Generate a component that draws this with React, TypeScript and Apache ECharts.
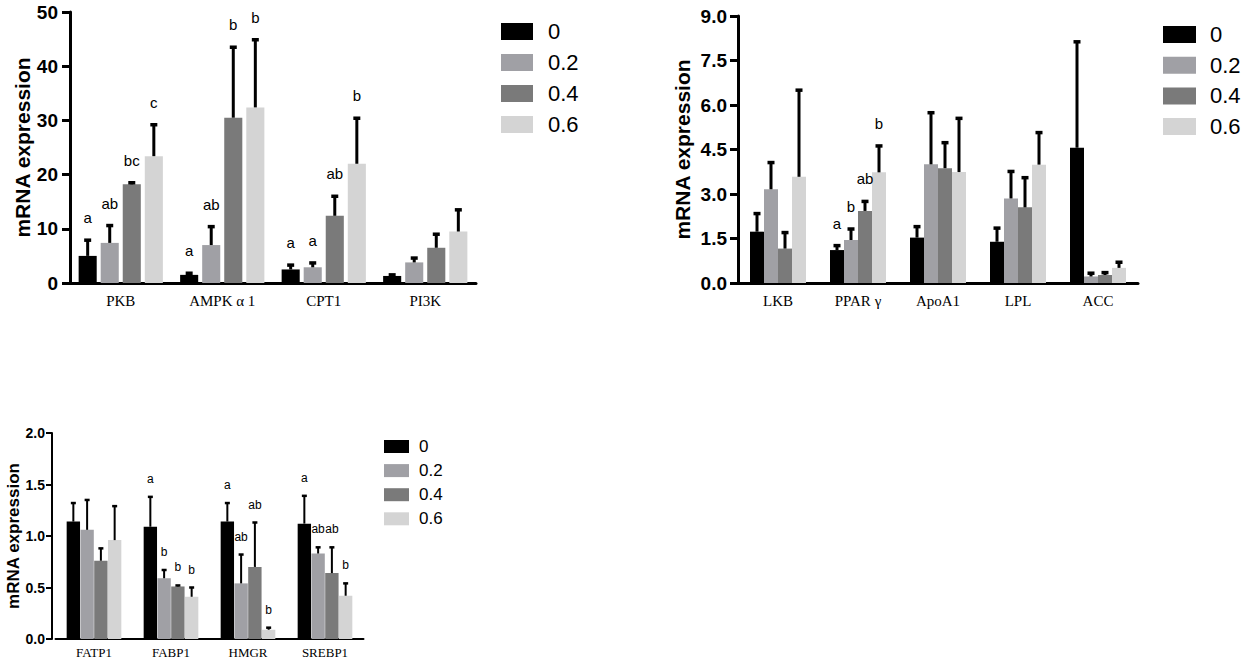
import React, { useEffect, useRef } from "react";
import * as echarts from "echarts";

// ---------- data ----------
const doses = ["0", "0.2", "0.4", "0.6"];
const doseColors = ["#000000", "#a0a0a5", "#7a7a7a", "#d4d4d4"];

// Chart A (top-left)
const genesA = ["PKB", "AMPK α 1", "CPT1", "PI3K"];
const meansA = [
  [5.0, 1.5, 2.5, 1.3],
  [7.4, 7.0, 2.9, 3.8],
  [18.2, 30.5, 12.4, 6.5],
  [23.4, 32.4, 22.0, 9.5],
];
const errA = [
  [2.9, 0.3, 0.8, 0.2],
  [3.2, 3.4, 0.8, 0.8],
  [0.3, 13.0, 3.6, 2.5],
  [5.8, 12.5, 8.4, 4.0],
];
const lettersA = [
  ["a", "a", "a", ""],
  ["ab", "ab", "a", ""],
  ["bc", "b", "ab", ""],
  ["c", "b", "b", ""],
];
const ticksA = { max: 50, interval: 10, decimals: 0 };

// Chart B (top-right)
const genesB = ["LKB", "PPAR γ", "ApoA1", "LPL", "ACC"];
const meansB = [
  [1.73, 1.11, 1.53, 1.39, 4.56],
  [3.16, 1.45, 4.0, 2.85, 0.22],
  [1.16, 2.43, 3.87, 2.55, 0.27],
  [3.58, 3.73, 3.74, 3.99, 0.51],
];
const errB = [
  [0.61, 0.15, 0.37, 0.46, 3.57],
  [0.9, 0.37, 1.74, 0.91, 0.11],
  [0.54, 0.32, 0.86, 1.0, 0.08],
  [2.92, 0.89, 1.81, 1.08, 0.19],
];
const lettersB = [
  ["", "a", "", "", ""],
  ["", "b", "", "", ""],
  ["", "ab", "", "", ""],
  ["", "b", "", "", ""],
];
const ticksB = { max: 9, interval: 1.5, decimals: 1 };

// Chart C (bottom-left)
const genesC = ["FATP1", "FABP1", "HMGR", "SREBP1"];
const meansC = [
  [1.14, 1.09, 1.14, 1.12],
  [1.06, 0.59, 0.54, 0.83],
  [0.76, 0.51, 0.7, 0.64],
  [0.96, 0.41, 0.09, 0.42],
];
const errC = [
  [0.18, 0.29, 0.18, 0.27],
  [0.29, 0.08, 0.28, 0.06],
  [0.12, 0.01, 0.43, 0.25],
  [0.33, 0.09, 0.02, 0.12],
];
const lettersC = [
  ["", "a", "a", "a"],
  ["", "b", "ab", "ab"],
  ["", "b", "ab", "ab"],
  ["", "b", "b", "b"],
];
const ticksC = { max: 2, interval: 0.5, decimals: 1 };

const yTitle = "mRNA expression";

// ---------- styles ----------
const SANS = "'Liberation Sans', Arial, sans-serif";
const SERIF = "'Liberation Serif', 'Times New Roman', serif";

type Style = {
  grid: { left: number; top: number; width: number; height: number };
  yOffset: number;
  catGap: number;
  barGap: number;
  axisW: number;
  yLabelSize: number;
  yLabelMargin: number;
  nameSize: number;
  nameGap: number;
  xLabelSize: number;
  xLabelMargin: number;
  tickLen: number;
  letterSize: number;
  letterDist: number;
  errW: number;
  capW: number;
  capH: number;
  legend: { left: number; top: number; iw: number; ih: number; gap: number; font: number; pad: number };
};

const styleA: Style = {
  grid: { left: 70, top: 12, width: 406, height: 271 },
  yOffset: 0,
  catGap: 0.17,
  barGap: 0.22,
  axisW: 3,
  yLabelSize: 19,
  yLabelMargin: 12,
  nameSize: 21,
  nameGap: 36,
  xLabelSize: 15,
  xLabelMargin: 10,
  tickLen: 8,
  letterSize: 15,
  letterDist: 15,
  errW: 3,
  capW: 7,
  capH: 3.5,
  legend: { left: 501, top: 20.5, iw: 32, ih: 17, gap: 9, font: 22, pad: 10 },
};

const styleB: Style = {
  grid: { left: 738, top: 16, width: 400, height: 267 },
  yOffset: 0,
  catGap: 0.3,
  barGap: 0,
  axisW: 3,
  yLabelSize: 19,
  yLabelMargin: 11,
  nameSize: 21,
  nameGap: 45,
  xLabelSize: 15,
  xLabelMargin: 10,
  tickLen: 8,
  letterSize: 15,
  letterDist: 15,
  errW: 3,
  capW: 7,
  capH: 3.5,
  legend: { left: 1163, top: 23.5, iw: 33, ih: 17, gap: 8.7, font: 22, pad: 9 },
};

const styleC: Style = {
  grid: { left: 55.5, top: 433, width: 308, height: 206 },
  yOffset: 3.5,
  catGap: 0.29,
  barGap: 0.03,
  axisW: 2,
  yLabelSize: 14,
  yLabelMargin: 7,
  nameSize: 17,
  nameGap: 28,
  xLabelSize: 13,
  xLabelMargin: 7,
  tickLen: 6,
  letterSize: 12,
  letterDist: 12,
  errW: 2,
  capW: 5,
  capH: 2.5,
  legend: { left: 384, top: 438, iw: 25, ih: 13, gap: 7.1, font: 17, pad: 5 },
};

function buildPanel(
  idx: number,
  genes: string[],
  means: number[][],
  errs: number[][],
  letters: string[][],
  ticks: { max: number; interval: number; decimals: number },
  s: Style
) {
  const grid = { ...s.grid, containLabel: false };
  const xAxis = {
    type: "category",
    gridIndex: idx,
    data: genes,
    axisLine: { lineStyle: { color: "#000", width: s.axisW } },
    axisTick: { alignWithLabel: true, length: s.tickLen, lineStyle: { color: "#000", width: s.axisW } },
    axisLabel: { fontFamily: SERIF, fontSize: s.xLabelSize, color: "#000", margin: s.xLabelMargin },
    splitLine: { show: false },
  };
  const yAxis = {
    type: "value",
    gridIndex: idx,
    min: 0,
    max: ticks.max,
    interval: ticks.interval,
    offset: s.yOffset,
    name: yTitle,
    nameLocation: "middle",
    nameRotate: 90,
    nameGap: s.nameGap,
    nameTextStyle: { fontFamily: SANS, fontSize: s.nameSize, fontWeight: "bold", color: "#000" },
    axisLine: { show: true, lineStyle: { color: "#000", width: s.axisW } },
    axisTick: { show: true, length: s.tickLen, lineStyle: { color: "#000", width: s.axisW } },
    axisLabel: {
      fontFamily: SANS,
      fontSize: s.yLabelSize,
      fontWeight: "bold",
      color: "#000",
      margin: s.yLabelMargin,
      formatter: (v: number) => v.toFixed(ticks.decimals),
    },
    splitLine: { show: false },
  };
  const series: any[] = doses.map((d, di) => ({
    type: "bar",
    name: d,
    xAxisIndex: idx,
    yAxisIndex: idx,
    data: means[di],
    barCategoryGap: `${s.catGap * 100}%`,
    barGap: `${s.barGap * 100}%`,
    itemStyle: { color: doseColors[di] },
    silent: true,
  }));

  const errData: number[][] = [];
  const errLetters: string[] = [];
  doses.forEach((_, di) => {
    genes.forEach((__, gi) => {
      errData.push([gi, means[di][gi], errs[di][gi], di]);
      errLetters.push(letters[di][gi]);
    });
  });

  series.push({
    type: "custom",
    name: "err" + idx,
    xAxisIndex: idx,
    yAxisIndex: idx,
    silent: true,
    z: 5,
    data: errData,
    encode: { x: 0, y: 1 },
    renderItem: (params: any, api: any) => {
      const gi = api.value(0);
      const mean = api.value(1);
      const sd = api.value(2);
      const di = api.value(3);
      const W = api.size([1, 0])[0];
      const band = W * (1 - s.catGap);
      const bw = band / (4 + 3 * s.barGap);
      const off = -band / 2 + di * bw * (1 + s.barGap) + bw / 2;
      const pBase = api.coord([gi, mean]);
      const pTop = api.coord([gi, mean + sd]);
      const x = pBase[0] + off;
      const children: any[] = [
        {
          type: "line",
          shape: { x1: x, y1: pBase[1], x2: x, y2: pTop[1] },
          style: { stroke: "#000", lineWidth: s.errW },
        },
        {
          type: "rect",
          shape: { x: x - s.capW / 2, y: pTop[1] - s.capH / 2, width: s.capW, height: s.capH },
          style: { fill: "#000" },
        },
      ];
      const letter = errLetters[params.dataIndex];
      if (letter) {
        children.push({
          type: "text",
          style: {
            text: letter,
            x: x,
            y: pTop[1] - s.letterDist,
            align: "center",
            verticalAlign: "bottom",
            fontFamily: SANS,
            fontSize: s.letterSize,
            fill: "#000",
          },
        });
      }
      return { type: "group", children };
    },
  });

  const legend = {
    orient: "vertical",
    left: s.legend.left,
    top: s.legend.top,
    padding: 0,
    itemWidth: s.legend.iw,
    itemHeight: s.legend.ih,
    itemGap: s.legend.gap,
    icon: "rect",
    selectedMode: false,
    data: doses,
    textStyle: {
      fontFamily: SANS,
      fontSize: s.legend.font,
      color: "#000",
      padding: [0, 0, 0, s.legend.pad],
    },
  };

  return { grid, xAxis, yAxis, series, legend };
}

export default function App() {
  const ref = useRef<HTMLDivElement>(null);
  useEffect(() => {
    document.body.style.margin = "0";
    if (!ref.current) return;
    const chart = echarts.init(ref.current, undefined, { renderer: "svg" });
    const panels = [
      buildPanel(0, genesA, meansA, errA, lettersA, ticksA, styleA),
      buildPanel(1, genesB, meansB, errB, lettersB, ticksB, styleB),
      buildPanel(2, genesC, meansC, errC, lettersC, ticksC, styleC),
    ];
    chart.setOption({
      animation: false,
      backgroundColor: "#ffffff",
      grid: panels.map((p) => p.grid),
      xAxis: panels.map((p) => p.xAxis),
      yAxis: panels.map((p) => p.yAxis),
      legend: panels.map((p) => p.legend),
      series: panels.flatMap((p) => p.series),
    });
    return () => chart.dispose();
  }, []);
  return <div ref={ref} style={{ width: 1248, height: 663 }} />;
}
